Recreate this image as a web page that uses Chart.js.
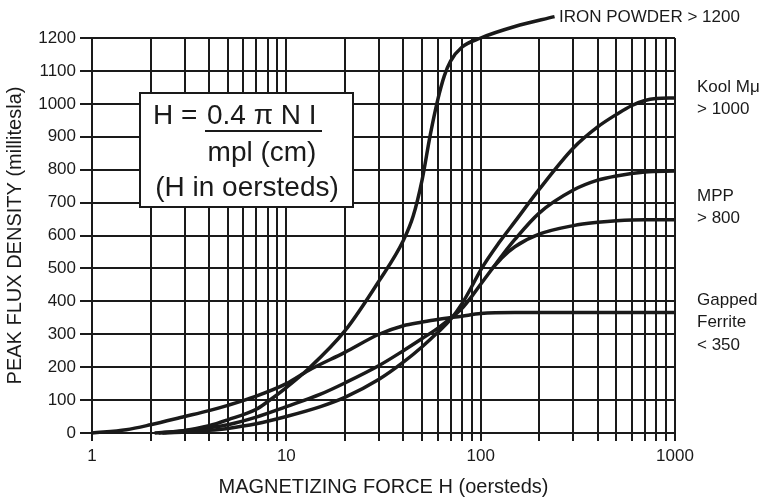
<!DOCTYPE html>
<html>
<head>
<meta charset="utf-8">
<script src="https://cdn.jsdelivr.net/npm/chart.js@4.4.1/dist/chart.umd.min.js"></script>
<style>
  body { margin: 0; background: #fff; }
  #wrap { width: 769px; height: 502px; }
</style>
</head>
<body>
<div id="wrap"><canvas id="fluxChart"></canvas></div>
<script>
// Magnetizing force H (oersteds) vs peak flux density (millitesla)
const ironH = [2.1, 3, 4, 5, 7, 8, 10, 13, 20, 30, 40, 45, 50, 55, 60, 65, 70, 80, 100, 150, 240];
const ironB = [0, 8, 22, 40, 72, 95, 138, 195, 310, 462, 585, 660, 770, 905, 1010, 1085, 1130, 1172, 1200, 1235, 1265];

const koolH = [2.3, 3, 4, 5, 7, 10, 15, 20, 30, 40, 50, 60, 70, 80, 90, 100, 125, 150, 200, 300, 400, 500, 600, 700, 800, 1000];
const koolB = [0, 3, 8, 14, 28, 50, 80, 108, 163, 215, 262, 305, 345, 392, 445, 495, 580, 642, 740, 866, 930, 968, 995, 1010, 1016, 1018];

const mppH = [2.2, 3, 4, 5, 7, 10, 15, 20, 30, 40, 50, 60, 70, 80, 90, 100, 115, 130, 150, 200, 300, 400, 500, 700, 1000];
const mppB = [0, 7, 16, 25, 48, 80, 118, 152, 205, 250, 287, 318, 348, 378, 415, 452, 500, 542, 588, 668, 738, 768, 781, 793, 796];

// lower MPP branch that splits off and levels out near 650
const mpp2H = [115, 130, 150, 200, 300, 400, 500, 700, 1000];
const mpp2B = [500, 535, 566, 604, 630, 640, 645, 648, 648];

const ferriteH = [1, 1.5, 2, 3, 4, 5, 7, 10, 13, 20, 30, 40, 50, 60, 80, 100, 150, 300, 1000];
const ferriteB = [0, 10, 25, 50, 68, 84, 112, 150, 190, 245, 300, 326, 337, 345, 355, 363, 366, 366, 366];

// axis grid / tick labels
const xGrid = [1, 2, 3, 4, 5, 6, 7, 8, 9, 10, 20, 30, 40, 50, 60, 70, 80, 90, 100, 200, 300, 400, 500, 600, 700, 800, 900, 1000];
const xTickLabels = [1, 10, 100, 1000];
const yMin = 0;
const yMax = 1200;
const yStep = 100;

const FONT = '"Liberation Sans", Arial, Helvetica, sans-serif';
const INK = '#1a1a1a';

function toPoints(hs, bs) {
    return hs.map((h, i) => ({ x: h, y: bs[i] }));
}

function curve(label, hs, bs) {
    return {
        label: label,
        data: toPoints(hs, bs),
        borderColor: INK,
        borderWidth: 3.5,
        pointRadius: 0,
        showLine: true,
        cubicInterpolationMode: 'monotone',
        clip: false
    };
}

// text that is not part of the axes: curve names and the formula box
const notesPlugin = {
    id: 'notes',
    afterDraw(chart) {
        const c = chart.ctx;
        c.save();
        c.fillStyle = INK;
        c.textBaseline = 'middle';
        c.textAlign = 'left';
        c.font = '17px ' + FONT;
        c.fillText('IRON POWDER > 1200', 559, 17);
        c.fillText('Kool M\u03bc', 697, 87);
        c.fillText('> 1000', 697, 109);
        c.fillText('MPP', 697, 196);
        c.fillText('> 800', 697, 218);
        c.fillText('Gapped', 697, 300);
        c.fillText('Ferrite', 697, 322);
        c.fillText('< 350', 697, 345);

        // formula box
        c.fillStyle = '#fff';
        c.fillRect(140, 93, 213, 114);
        c.strokeStyle = INK;
        c.lineWidth = 2;
        c.strokeRect(140, 93, 213, 114);

        c.fillStyle = INK;
        c.font = '28px ' + FONT;
        c.fillText('H =', 153, 116);
        c.fillText('0.4 \u03c0 N I', 207, 116);
        c.beginPath();
        c.moveTo(205, 131);
        c.lineTo(322, 131);
        c.stroke();
        c.textAlign = 'center';
        c.fillText('mpl (cm)', 262, 153);
        c.fillText('(H in oersteds)', 247, 188);
        c.restore();
    }
};

const ctx = document.getElementById('fluxChart').getContext('2d');

const fluxChart = new Chart(ctx, {
    type: 'scatter',
    data: {
        datasets: [
            curve('Iron powder', ironH, ironB),
            curve('Kool Mu', koolH, koolB),
            curve('MPP', mppH, mppB),
            curve('MPP (lower)', mpp2H, mpp2B),
            curve('Gapped ferrite', ferriteH, ferriteB)
        ]
    },
    options: {
        responsive: true,
        maintainAspectRatio: false,
        animation: false,
        layout: {
            padding: { top: 38, right: 94, left: 0, bottom: 0 }
        },
        scales: {
            x: {
                type: 'logarithmic',
                min: 1,
                max: 1000,
                afterBuildTicks: (scale) => {
                    scale.ticks = xGrid.map(v => ({ value: v }));
                },
                afterFit: (scale) => {
                    scale.height = 69;
                },
                grid: {
                    color: INK,
                    lineWidth: 2,
                    tickLength: 8,
                    tickColor: INK
                },
                border: { color: INK, width: 2 },
                ticks: {
                    autoSkip: false,
                    maxRotation: 0,
                    padding: 5,
                    color: INK,
                    font: { family: FONT, size: 17 },
                    callback: (value) => xTickLabels.includes(value) ? String(value) : ''
                },
                title: {
                    display: true,
                    text: 'MAGNETIZING FORCE H (oersteds)',
                    color: INK,
                    font: { family: FONT, size: 20 },
                    padding: { top: 4, bottom: 3 }
                }
            },
            y: {
                min: yMin,
                max: yMax,
                afterFit: (scale) => {
                    scale.width = 92;
                },
                grid: {
                    color: INK,
                    lineWidth: 2,
                    tickLength: 12,
                    tickColor: INK
                },
                border: { color: INK, width: 2 },
                ticks: {
                    stepSize: yStep,
                    padding: 4,
                    color: INK,
                    font: { family: FONT, size: 17 },
                    callback: (value) => String(value)
                },
                title: {
                    display: true,
                    text: 'PEAK FLUX DENSITY (millitesla)',
                    color: INK,
                    font: { family: FONT, size: 20 },
                    padding: { top: 3, bottom: 4 }
                }
            }
        },
        plugins: {
            legend: { display: false },
            tooltip: { enabled: false }
        }
    },
    plugins: [notesPlugin]
});
</script>
</body>
</html>
